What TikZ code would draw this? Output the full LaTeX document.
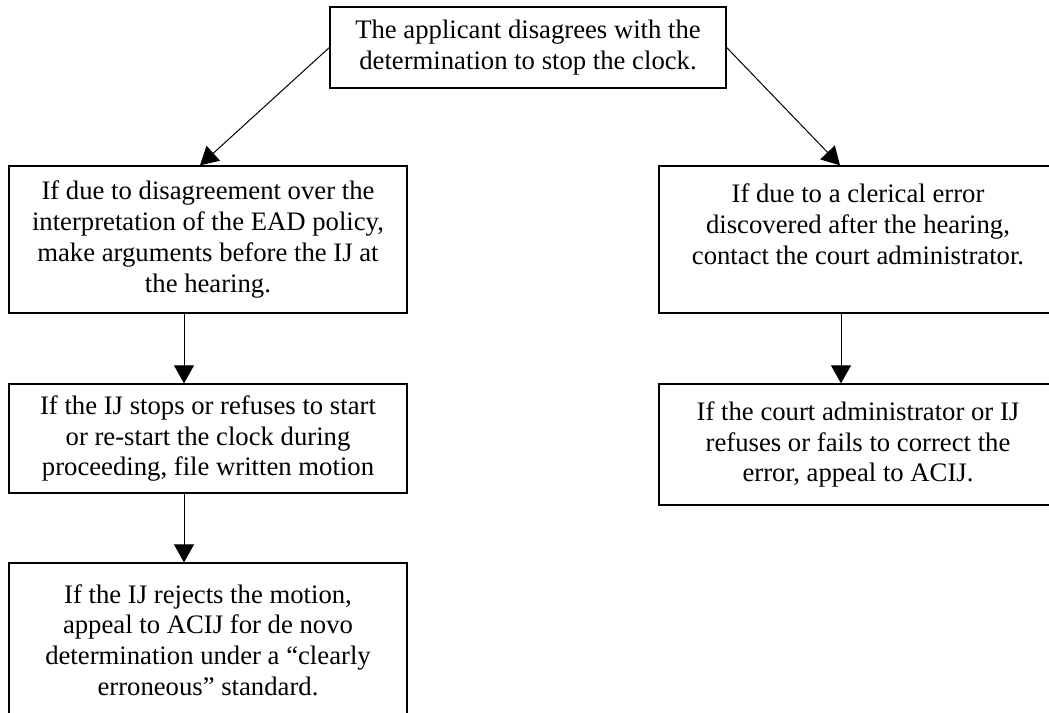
\documentclass[tikz,border=0pt]{standalone}
\usepackage{fontspec}
\setmainfont{Liberation Serif}
\usetikzlibrary{arrows.meta}
\tikzset{
  box/.style={draw, line width=1.3pt, align=center, minimum width=398pt, inner sep=0pt, font=\fontsize{26.7}{30.7}\selectfont},
  arr/.style={line width=1pt, -{Triangle[width=20pt,length=18pt]}}
}
\begin{document}
\begin{tikzpicture}[x=1pt,y=-1pt]
\useasboundingbox (0,0) rectangle (1049,712);
\clip (0,0) rectangle (1049,712);
\node[box, minimum width=396pt, minimum height=81pt] (st0) at (528,47.5){The applicant disagrees with the\\determination to stop the clock.};
\node[box, minimum height=147pt] (st1) at (208,239.5){If due to disagreement over the\\interpretation of the EAD policy,\\make arguments before the IJ at\\the hearing.};
\node[box, minimum width=398pt, minimum height=147pt] (st2) at (858,239.5){If due to a clerical error\\discovered after the hearing,\\contact the court administrator.\\\mbox{}};
\draw[arr] (st0.west) -- ([xshift=-8pt]st1.north);
\draw[arr] (st0.east) -- ([xshift=-18pt]st2.north);
\node[box, minimum height=109pt] (st3) at (208,438.5){If the IJ stops or refuses to start\\or re-start the clock during\\proceeding, file written motion};
\draw[arr] ([xshift=-24pt]st1.south) -- ([xshift=-24pt]st3.north);
\node[box, minimum width=398pt, minimum height=121pt] (st4) at (858,444.5){If the court administrator or IJ\\refuses or fails to correct the\\error, appeal to ACIJ.};
\draw[arr] ([xshift=-17pt]st2.south) -- ([xshift=-17pt]st4.north);
\node[box, minimum height=154pt] (st5) at (208,640){If the IJ rejects the motion,\\appeal to ACIJ for de novo\\determination under a “clearly\\erroneous” standard.};
\draw[arr] ([xshift=-24pt]st3.south) -- ([xshift=-24pt]st5.north);
\end{tikzpicture}
\end{document}
